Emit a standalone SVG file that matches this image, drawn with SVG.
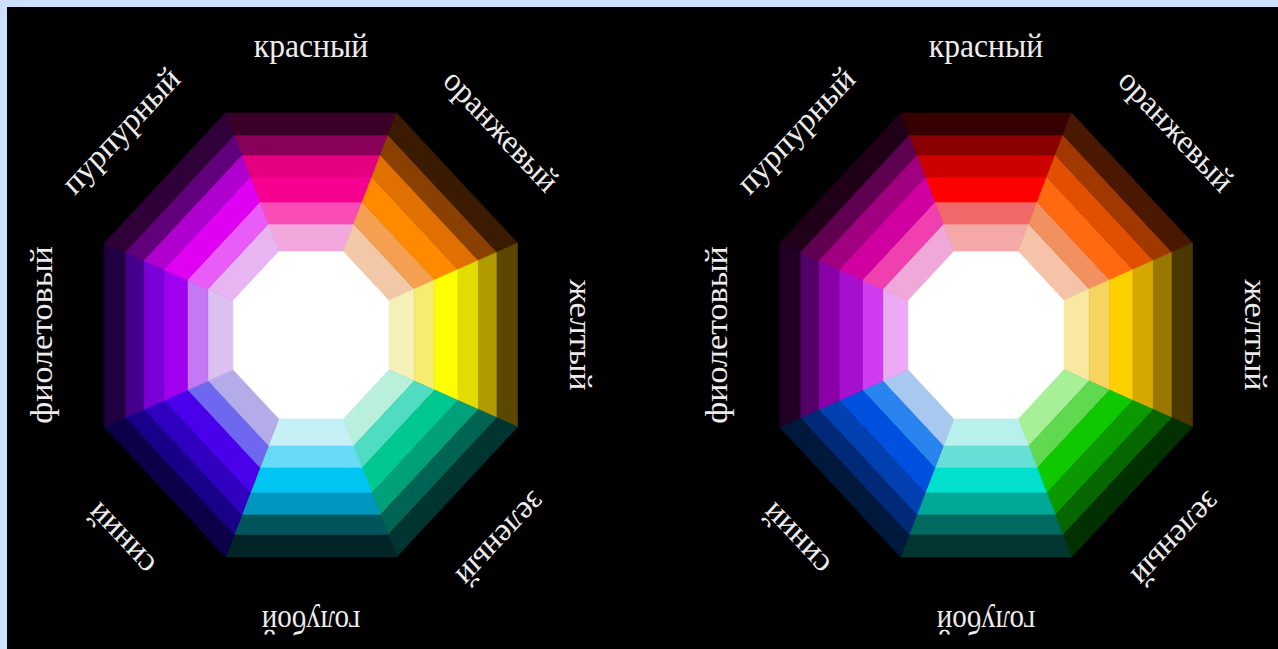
<svg xmlns="http://www.w3.org/2000/svg" width="1278" height="649" viewBox="0 0 1278 649">
<style>
.lbl{font-family:"Liberation Serif","Times New Roman",serif;font-size:34px;fill:#ececec;text-anchor:middle}
.core{fill:#ffffff}
</style>
<defs>
<polygon id="b1" points="-34.8,-84 34.8,-84 46,-111 -46,-111" fill="currentColor" stroke="currentColor" stroke-width="0.7" stroke-linejoin="round"/>
<polygon id="b2" points="-46,-111 46,-111 55.1,-133 -55.1,-133" fill="currentColor" stroke="currentColor" stroke-width="0.7" stroke-linejoin="round"/>
<polygon id="b3" points="-55.1,-133 55.1,-133 65.4,-158 -65.4,-158" fill="currentColor" stroke="currentColor" stroke-width="0.7" stroke-linejoin="round"/>
<polygon id="b4" points="-65.4,-158 65.4,-158 74.6,-180 -74.6,-180" fill="currentColor" stroke="currentColor" stroke-width="0.7" stroke-linejoin="round"/>
<polygon id="b5" points="-74.6,-180 74.6,-180 82.8,-200 -82.8,-200" fill="currentColor" stroke="currentColor" stroke-width="0.7" stroke-linejoin="round"/>
<polygon id="b6" points="-82.8,-200 82.8,-200 92,-222 -92,-222" fill="currentColor" stroke="currentColor" stroke-width="0.7" stroke-linejoin="round"/>
</defs>
<rect x="0" y="0" width="1278" height="649" fill="#cce0ff"/>
<rect x="7" y="7" width="1271" height="642" fill="#000000"/>

<g id="wheel-left" transform="translate(311,335) scale(0.93,1)">
 <polygon class="core" points="35.2,-85 85,-35.2 85,35.2 35.2,85 -35.2,85 -85,35.2 -85,-35.2 -35.2,-85"/>
 <g id="L-red" transform="rotate(0)"><use href="#b1" color="#f2a8dc"/><use href="#b2" color="#fa4cb6"/><use href="#b3" color="#f5008f"/><use href="#b4" color="#e4007f"/><use href="#b5" color="#880058"/><use href="#b6" color="#3a0028"/></g>
 <g id="L-orange" transform="rotate(45)"><use href="#b1" color="#f2c8a8"/><use href="#b2" color="#f5a050"/><use href="#b3" color="#ff8a00"/><use href="#b4" color="#e07000"/><use href="#b5" color="#8a4000"/><use href="#b6" color="#3a1a00"/></g>
 <g id="L-yellow" transform="rotate(90)"><use href="#b1" color="#f5f0b8"/><use href="#b2" color="#f5ec70"/><use href="#b3" color="#ffff00"/><use href="#b4" color="#e2dc00"/><use href="#b5" color="#b09a00"/><use href="#b6" color="#5a4800"/></g>
 <g id="L-green" transform="rotate(135)"><use href="#b1" color="#b8f0dc"/><use href="#b2" color="#50dcc0"/><use href="#b3" color="#00c890"/><use href="#b4" color="#00a078"/><use href="#b5" color="#006454"/><use href="#b6" color="#003430"/></g>
 <g id="L-cyan" transform="rotate(180)"><use href="#b1" color="#c4f0f6"/><use href="#b2" color="#66daf6"/><use href="#b3" color="#00c4f2"/><use href="#b4" color="#0096c0"/><use href="#b5" color="#00545c"/><use href="#b6" color="#002428"/></g>
 <g id="L-blue" transform="rotate(225)"><use href="#b1" color="#b4ace8"/><use href="#b2" color="#6e68f0"/><use href="#b3" color="#4a00ea"/><use href="#b4" color="#3000c0"/><use href="#b5" color="#180088"/><use href="#b6" color="#0c0048"/></g>
 <g id="L-violet" transform="rotate(270)"><use href="#b1" color="#dcc0f2"/><use href="#b2" color="#c478f6"/><use href="#b3" color="#a000f0"/><use href="#b4" color="#7a00d8"/><use href="#b5" color="#44008a"/><use href="#b6" color="#200040"/></g>
 <g id="L-purple" transform="rotate(315)"><use href="#b1" color="#e8b4f2"/><use href="#b2" color="#ea5cf8"/><use href="#b3" color="#e000f2"/><use href="#b4" color="#b000d0"/><use href="#b5" color="#60007a"/><use href="#b6" color="#300038"/></g>
 <g id="L-labels">
  <text class="lbl" transform="rotate(0) translate(0,-278)">красный</text>
  <text class="lbl" transform="rotate(45) translate(0,-278)" textLength="158" lengthAdjust="spacingAndGlyphs">оранжевый</text>
  <text class="lbl" transform="rotate(90) translate(0,-278)">желтый</text>
  <text class="lbl" transform="rotate(135) translate(0,-278)">зеленый</text>
  <text class="lbl" transform="rotate(180) translate(0,-276)" textLength="106" lengthAdjust="spacingAndGlyphs">голубой</text>
  <text class="lbl" transform="rotate(225) translate(0,-278)">синий</text>
  <text class="lbl" transform="rotate(270) translate(0,-278)">фиолетовый</text>
  <text class="lbl" transform="rotate(315) translate(0,-278)">пурпурный</text>
 </g>
</g>

<g id="wheel-right" transform="translate(986,335) scale(0.93,1)">
 <polygon class="core" points="35.2,-85 85,-35.2 85,35.2 35.2,85 -35.2,85 -85,35.2 -85,-35.2 -35.2,-85"/>
 <g id="R-red" transform="rotate(0)"><use href="#b1" color="#f5a8a8"/><use href="#b2" color="#f26868"/><use href="#b3" color="#ff0000"/><use href="#b4" color="#cc0000"/><use href="#b5" color="#8a0000"/><use href="#b6" color="#360000"/></g>
 <g id="R-orange" transform="rotate(45)"><use href="#b1" color="#f5c4a8"/><use href="#b2" color="#f29060"/><use href="#b3" color="#ff6a10"/><use href="#b4" color="#e05000"/><use href="#b5" color="#a03800"/><use href="#b6" color="#4a1800"/></g>
 <g id="R-yellow" transform="rotate(90)"><use href="#b1" color="#f8e8a0"/><use href="#b2" color="#f5d460"/><use href="#b3" color="#ffd000"/><use href="#b4" color="#d4a800"/><use href="#b5" color="#987800"/><use href="#b6" color="#4a3800"/></g>
 <g id="R-green" transform="rotate(135)"><use href="#b1" color="#a8f098"/><use href="#b2" color="#60d850"/><use href="#b3" color="#10c800"/><use href="#b4" color="#0a9a00"/><use href="#b5" color="#066600"/><use href="#b6" color="#033000"/></g>
 <g id="R-cyan" transform="rotate(180)"><use href="#b1" color="#b8f0ec"/><use href="#b2" color="#66e0d6"/><use href="#b3" color="#00e0cc"/><use href="#b4" color="#00a898"/><use href="#b5" color="#006a60"/><use href="#b6" color="#003530"/></g>
 <g id="R-blue" transform="rotate(225)"><use href="#b1" color="#a8c8f0"/><use href="#b2" color="#2a84f0"/><use href="#b3" color="#0050e0"/><use href="#b4" color="#0040b0"/><use href="#b5" color="#002a78"/><use href="#b6" color="#00183c"/></g>
 <g id="R-violet" transform="rotate(270)"><use href="#b1" color="#ecaaf4"/><use href="#b2" color="#d03cf0"/><use href="#b3" color="#a810d0"/><use href="#b4" color="#8a00a8"/><use href="#b5" color="#520068"/><use href="#b6" color="#200024"/></g>
 <g id="R-purple" transform="rotate(315)"><use href="#b1" color="#f0a8d8"/><use href="#b2" color="#f040b0"/><use href="#b3" color="#d000a0"/><use href="#b4" color="#a00080"/><use href="#b5" color="#600050"/><use href="#b6" color="#200018"/></g>
 <g id="R-labels">
  <text class="lbl" transform="rotate(0) translate(0,-278)">красный</text>
  <text class="lbl" transform="rotate(45) translate(0,-278)" textLength="158" lengthAdjust="spacingAndGlyphs">оранжевый</text>
  <text class="lbl" transform="rotate(90) translate(0,-278)">желтый</text>
  <text class="lbl" transform="rotate(135) translate(0,-278)">зеленый</text>
  <text class="lbl" transform="rotate(180) translate(0,-276)" textLength="106" lengthAdjust="spacingAndGlyphs">голубой</text>
  <text class="lbl" transform="rotate(225) translate(0,-278)">синий</text>
  <text class="lbl" transform="rotate(270) translate(0,-278)">фиолетовый</text>
  <text class="lbl" transform="rotate(315) translate(0,-278)">пурпурный</text>
 </g>
</g>
<g id="connectors"/>
</svg>
